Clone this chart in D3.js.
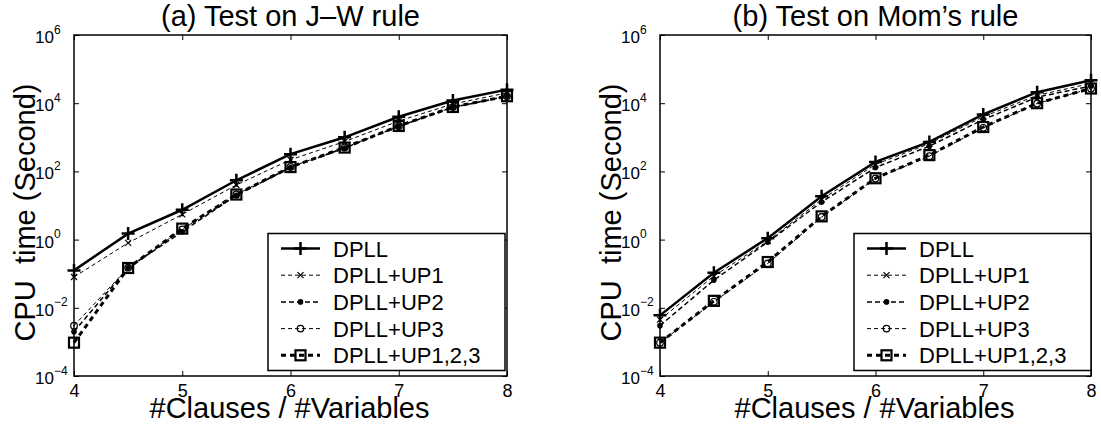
<!DOCTYPE html>
<html>
<head>
<meta charset="utf-8">
<script src="https://cdn.jsdelivr.net/npm/d3@7"></script>
<style>
  body { margin: 0; background: #fff; }
  svg, svg text { font-family: "Liberation Sans", Arial, Helvetica, sans-serif; }
</style>
</head>
<body>
<svg id="chart" width="1101" height="428"></svg>
<script>
// x values (clause / variable ratio)
const ratios = [4, 4.5, 5, 5.5, 6, 6.5, 7, 7.5, 8];
const seriesNames = ["DPLL", "DPLL+UP1", "DPLL+UP2", "DPLL+UP3", "DPLL+UP1,2,3"];
const xTicks = [4, 5, 6, 7, 8];
const yExponents = [-4, -2, 0, 2, 4, 6];

// (a) J-W rule, CPU seconds
const jwDPLL  = [0.125, 1.5, 7.5, 55, 320, 1000, 4000, 12000, 25000];
const jwUP1   = [0.08, 0.8, 5.5, 40, 220, 750, 3000, 9500, 20000];
const jwUP2   = [0.002, 0.15, 1.7, 20, 130, 480, 2100, 7500, 16000];
const jwUP3   = [0.003, 0.15, 2.0, 21, 135, 500, 2100, 7700, 16000];
const jwUP123 = [0.00095, 0.147, 2.1, 21, 134, 500, 2150, 7750, 16000];

// (b) Mom's rule, CPU seconds
const momDPLL  = [0.006, 0.107, 1.1, 18.6, 190, 730, 4700, 21000, 47000];
const momUP1   = [0.0045, 0.085, 0.9, 15, 160, 650, 4000, 17000, 38000];
const momUP2   = [0.003, 0.065, 0.85, 12.6, 130, 550, 3300, 15000, 32000];
const momUP3   = [0.00095, 0.015, 0.2, 4.6, 62, 280, 1900, 9800, 27000];
const momUP123 = [0.00095, 0.016, 0.22, 4.8, 63, 300, 2000, 10000, 27000];

// line / marker style per series
const styles = [
  { width: 2.5, dash: null,  marker: "plus" },
  { width: 1,   dash: "4,3", marker: "cross" },
  { width: 1.5, dash: "5,3", marker: "dot" },
  { width: 1,   dash: "4,3", marker: "circle" },
  { width: 3,   dash: "5,4", marker: "square" },
];

const fontFamily = '"Liberation Sans", Arial, Helvetica, sans-serif';
const svg = d3.select("#chart");

function drawMarker(g, type, x, y) {
  if (type === "plus") {
    g.append("path").attr("d", `M${x - 6.5},${y}H${x + 6.5}M${x},${y - 6.5}V${y + 6.5}`)
      .attr("stroke", "#000").attr("stroke-width", 2.5);
  } else if (type === "cross") {
    g.append("path").attr("d", `M${x - 3},${y - 3}L${x + 3},${y + 3}M${x - 3},${y + 3}L${x + 3},${y - 3}`)
      .attr("stroke", "#000").attr("stroke-width", 1.2);
  } else if (type === "dot") {
    g.append("circle").attr("cx", x).attr("cy", y).attr("r", 2.8).attr("fill", "#000");
  } else if (type === "circle") {
    g.append("circle").attr("cx", x).attr("cy", y).attr("r", 3.3)
      .attr("fill", "none").attr("stroke", "#000").attr("stroke-width", 1.2);
  } else if (type === "square") {
    g.append("rect").attr("x", x - 5).attr("y", y - 5).attr("width", 10).attr("height", 10)
      .attr("fill", "none").attr("stroke", "#000").attr("stroke-width", 2.2);
  }
}

function drawPanel({ left, right, top, bottom, title, values, legendX }) {
  const scaleX = d3.scaleLinear().domain([4, 8]).range([left, right]);
  const scaleY = d3.scaleLog().domain([1e-4, 1e6]).range([bottom, top]);
  const yTickValues = yExponents.map(e => Math.pow(10, e));

  // title
  svg.append("text")
    .attr("x", (left + right) / 2).attr("y", 26)
    .attr("text-anchor", "middle").style("font-size", "29px")
    .text(title);

  // y label
  svg.append("text")
    .attr("transform", `translate(${left - 39},${(top + bottom) / 2 + 7}) rotate(-90)`)
    .attr("text-anchor", "middle").style("font-size", "29px")
    .attr("xml:space", "preserve")
    .text("CPU  time (Second)");

  // x label
  svg.append("text")
    .attr("x", (left + right) / 2 - 1).attr("y", 418)
    .attr("text-anchor", "middle").style("font-size", "29px")
    .text("#Clauses / #Variables");

  // bottom axis
  const xAxis = svg.append("g")
    .attr("transform", `translate(0,${bottom})`)
    .call(d3.axisBottom(scaleX).tickValues(xTicks).tickFormat(d3.format("d"))
      .tickSizeInner(-5).tickSizeOuter(0).tickPadding(8))
    .attr("font-family", fontFamily);
  xAxis.select(".domain").remove();
  xAxis.selectAll("text").style("font-size", "18px").attr("fill", "#000");

  // top axis, ticks only
  const xTop = svg.append("g")
    .attr("transform", `translate(0,${top})`)
    .call(d3.axisTop(scaleX).tickValues(xTicks).tickSizeInner(-5).tickSizeOuter(0).tickFormat(""));
  xTop.select(".domain").remove();

  // left axis with 10^n labels
  const yAxis = svg.append("g")
    .attr("transform", `translate(${left},0)`)
    .call(d3.axisLeft(scaleY).tickValues(yTickValues).tickSizeInner(-5).tickSizeOuter(0).tickFormat(""))
    .attr("font-family", fontFamily);
  yAxis.select(".domain").remove();
  yAxis.selectAll(".tick text").each(function (d) {
    const e = Math.round(Math.log10(d));
    const t = d3.select(this)
      .attr("x", -39).attr("dy", 7.5)
      .attr("text-anchor", "start").attr("fill", "#000")
      .style("font-size", "17px");
    t.append("tspan").text("10");
    t.append("tspan").attr("dy", -9.5).style("font-size", "12px")
      .text(e < 0 ? "\u2212" + (-e) : String(e));
  });

  // right axis, ticks only
  const yRight = svg.append("g")
    .attr("transform", `translate(${right},0)`)
    .call(d3.axisRight(scaleY).tickValues(yTickValues).tickSizeInner(-5).tickSizeOuter(0).tickFormat(""));
  yRight.select(".domain").remove();

  // box
  svg.append("rect")
    .attr("x", left).attr("y", top)
    .attr("width", right - left).attr("height", bottom - top)
    .attr("fill", "none").attr("stroke", "#000").attr("stroke-width", 1.5);

  // series
  const line = d3.line()
    .x((d, i) => scaleX(ratios[i]))
    .y(d => scaleY(d));

  values.forEach((vals, s) => {
    const st = styles[s];
    const g = svg.append("g");
    g.append("path")
      .attr("d", line(vals))
      .attr("fill", "none").attr("stroke", "#000")
      .attr("stroke-width", st.width)
      .attr("stroke-dasharray", st.dash);
    vals.forEach((v, i) => drawMarker(g, st.marker, scaleX(ratios[i]), scaleY(v)));
  });

  // legend
  const legW = 237, legTop = 233.5, legH = 137, rowH = 26.7;
  const leg = svg.append("g");
  leg.append("rect")
    .attr("x", legendX).attr("y", legTop)
    .attr("width", legW).attr("height", legH)
    .attr("fill", "#fff").attr("stroke", "#000").attr("stroke-width", 1.5);
  seriesNames.forEach((name, s) => {
    const st = styles[s];
    const cy = legTop + 15 + s * rowH;
    leg.append("path")
      .attr("d", `M${legendX + 13},${cy}H${legendX + 52}`)
      .attr("stroke", "#000").attr("stroke-width", st.width)
      .attr("stroke-dasharray", st.dash);
    drawMarker(leg, st.marker, legendX + 32.5, cy);
    leg.append("text")
      .attr("x", legendX + 65).attr("y", cy + 8)
      .style("font-size", "22px")
      .text(name);
  });
}

drawPanel({
  left: 74, right: 507, top: 35, bottom: 376,
  title: "(a) Test on J\u2013W rule",
  values: [jwDPLL, jwUP1, jwUP2, jwUP3, jwUP123],
  legendX: 268,
});

drawPanel({
  left: 660, right: 1091, top: 35, bottom: 376,
  title: "(b) Test on Mom\u2019s rule",
  values: [momDPLL, momUP1, momUP2, momUP3, momUP123],
  legendX: 854,
});
</script>
</body>
</html>
